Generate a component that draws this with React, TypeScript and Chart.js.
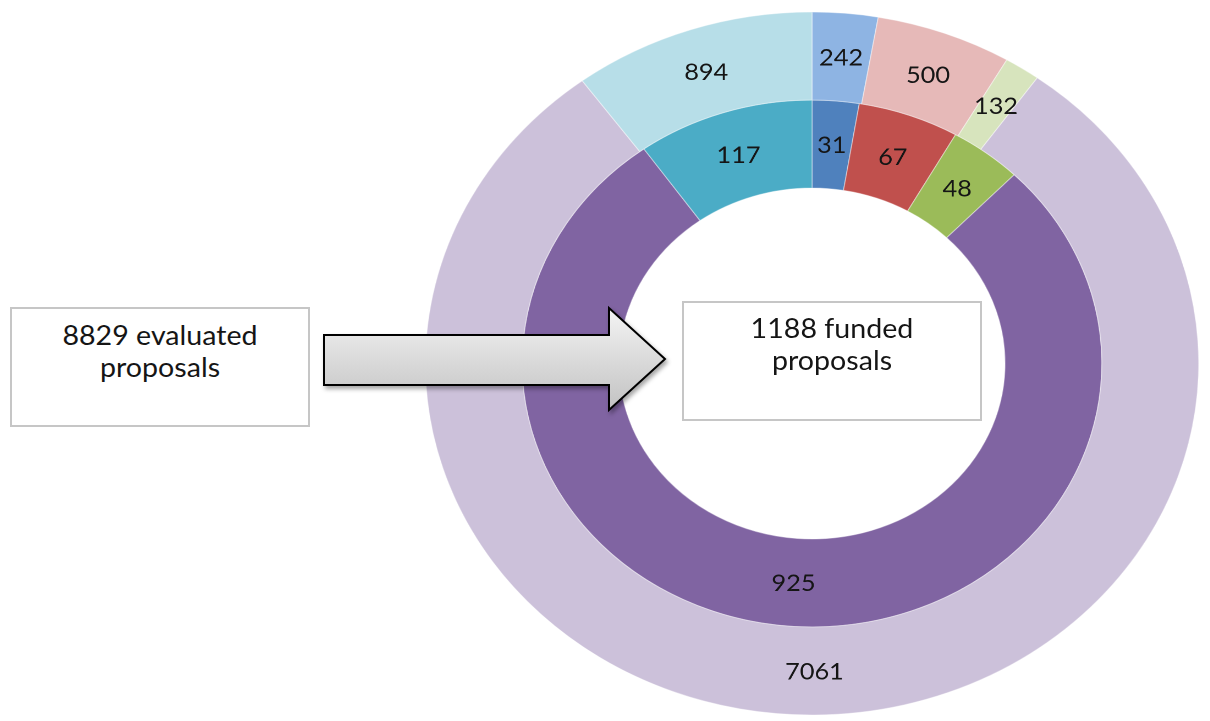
import React, { useEffect, useRef } from 'react';
import { Chart, registerables } from 'chart.js';

Chart.register(...registerables);

const categories = ['Group 1', 'Group 2', 'Group 3', 'Group 4', 'Group 5'];
const evaluated = [242, 500, 132, 7061, 894];
const funded = [31, 67, 48, 925, 117];
const outerColors = ['#8EB4E3', '#E6B9B8', '#D7E4BD', '#CCC1DA', '#B7DEE8'];
const innerColors = ['#4F81BD', '#C0504D', '#9BBB59', '#8064A2', '#4BACC6'];
const evaluatedText = ['8829 evaluated', 'proposals'];
const fundedText = ['1188 funded', 'proposals'];

const FONT = 'Lato, "Open Sans", "DejaVu Sans", sans-serif';

const segLabels = {
  id: 'segLabels',
  afterDatasetsDraw(chart: any) {
    const ctx = chart.ctx;
    ctx.save();
    ctx.font = `23px ${FONT}`;
    ctx.fillStyle = '#151515';
    ctx.textAlign = 'center';
    ctx.textBaseline = 'middle';
    chart.data.datasets.forEach((ds: any, di: number) => {
      const meta = chart.getDatasetMeta(di);
      meta.data.forEach((arc: any, i: number) => {
        const p = arc.tooltipPosition(false);
        ctx.fillText(String(ds.data[i]), p.x, p.y + 1);
      });
    });
    ctx.restore();
  },
};

function TextBox({ left, top, lines, textTop }: { left: number; top: number; lines: string[]; textTop: number }) {
  return (
    <div
      style={{
        position: 'absolute',
        left,
        top,
        width: 300,
        height: 120,
        boxSizing: 'border-box',
        border: '2px solid #c6c6c6',
        background: '#ffffff',
      }}
    >
      <div
        style={{
          position: 'absolute',
          left: 0,
          right: 0,
          top: textTop,
          textAlign: 'center',
          fontFamily: FONT,
          fontSize: 26,
          lineHeight: '32px',
          color: '#151515',
          transform: 'scaleX(1.1)',
          transformOrigin: '50% 50%',
        }}
      >
        {lines.map((l, i) => (
          <div key={i}>{l}</div>
        ))}
      </div>
    </div>
  );
}

export default function App() {
  const canvasRef = useRef<HTMLCanvasElement | null>(null);

  useEffect(() => {
    if (!canvasRef.current) return;
    const chart = new Chart(canvasRef.current, {
      type: 'doughnut',
      data: {
        labels: categories,
        datasets: [
          {
            label: 'Evaluated',
            data: evaluated,
            backgroundColor: outerColors,
            borderColor: 'rgba(255,255,255,0.4)',
            borderWidth: 1,
          },
          {
            label: 'Funded',
            data: funded,
            backgroundColor: innerColors,
            borderColor: 'rgba(255,255,255,0.4)',
            borderWidth: 1,
          },
        ],
      },
      options: {
        responsive: false,
        animation: false,
        devicePixelRatio: 2,
        radius: 351.5,
        cutout: '49.93%',
        layout: { padding: { top: 6, bottom: 0, left: 0, right: 0 } },
        plugins: {
          legend: { display: false },
          tooltip: { enabled: false },
        },
      } as any,
      plugins: [segLabels],
    });
    return () => chart.destroy();
  }, []);

  return (
    <div
      style={{
        position: 'fixed',
        left: 0,
        top: 0,
        width: 1210,
        height: 721,
        overflow: 'hidden',
        background: '#ffffff',
      }}
    >
      <div
        style={{
          position: 'absolute',
          left: 451.5,
          top: 0,
          width: 720,
          height: 721,
          transform: 'scaleX(1.1)',
          transformOrigin: '50% 50%',
        }}
      >
        <canvas ref={canvasRef} width={720} height={721} />
      </div>
      <TextBox left={10} top={307} lines={evaluatedText} textTop={10} />
      <TextBox left={682} top={301} lines={fundedText} textTop={9} />
      <svg
        width={1210}
        height={721}
        style={{ position: 'absolute', left: 0, top: 0, filter: 'drop-shadow(2px 3px 2px rgba(0,0,0,0.35))' }}
      >
        <defs>
          <linearGradient id="arrowGrad" x1="0" y1="0" x2="0" y2="1">
            <stop offset="0" stopColor="#f4f4f4" />
            <stop offset="1" stopColor="#c2c2c2" />
          </linearGradient>
        </defs>
        <polygon
          points="324,335 609,335 609,308 665,359 609,410 609,385 324,385"
          fill="url(#arrowGrad)"
          stroke="#000000"
          strokeWidth={2}
          strokeLinejoin="miter"
        />
      </svg>
    </div>
  );
}
